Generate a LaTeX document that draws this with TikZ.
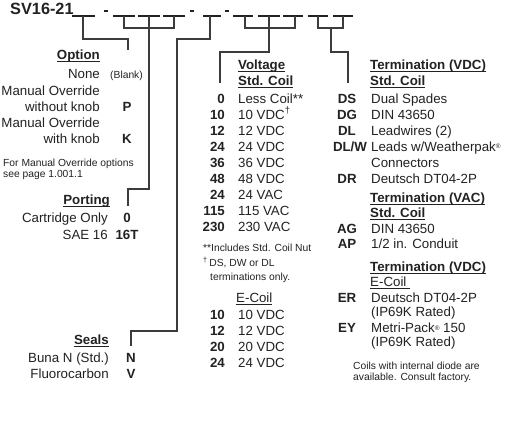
\documentclass[tikz,border=0pt]{standalone}
\usepackage{fontspec}
\setmainfont{Liberation Sans}
\definecolor{txt}{HTML}{222222}
\definecolor{ln}{HTML}{3C3C3C}
\newcommand\myul[1]{\setbox0\hbox{#1}\rlap{\rule[-2.4pt]{\wd0}{0.9pt}}\box0}
\newcommand\regmark{\raisebox{2.5pt}{\fontsize{6.5}{6.5}\selectfont ®}}
\tikzset{
  lbl/.style={inner sep=0, text=txt, font=\fontsize{13.3}{15}\selectfont},
  head/.style={lbl, font=\fontsize{13.3}{15}\selectfont\bfseries},
  code/.style={lbl, font=\fontsize{13.3}{15}\selectfont\bfseries},
  small/.style={inner sep=0, text=txt, font=\fontsize{10.3}{11.5}\selectfont},
  conn/.style={draw=ln, line width=1.2pt, line join=miter},
  blankline/.style={draw=txt, line width=1.7pt},
  dashmark/.style={draw=txt, line width=1.4pt},
}
\begin{document}
\begin{tikzpicture}[x=1pt,y=-1pt]
\useasboundingbox[fill=white] (0,0) rectangle (512,424);

% title and blanks
\node[inner sep=0, text=txt, anchor=base west, font=\fontsize{16.3}{18}\selectfont\bfseries] (title) at (10,14) {SV16-21};
\foreach \a/\b/\n in {72/95/b1, 113/135/b2, 138/160/b3, 163/185/b4, 203/221/b5, 233/253/b6, 258/280/b7, 283/303/b8, 308/328/b9, 333/353/b10}
  \draw[blankline] (\a,16) -- (\b,16) coordinate[pos=0.5] (\n);
\foreach \x/\n in {106/d1, 192/d2, 227/d3}
  \draw[dashmark] (\x-2,11) -- (\x+2,11) coordinate (\n);

% connector points
\coordinate (optEnd) at (128,50);
\coordinate (portEnd) at (128,206);
\coordinate (sealEnd) at (131,346);
\coordinate (voltEnd) at (220,83);
\coordinate (termEnd) at (348,83);

% Option connector
\draw[conn] (83,16) |- (128,39) -- (optEnd);
% Porting group
\draw[conn] (124,16) |- (174,28) -- (174,16);
\draw[conn] (b3) |- (128,189) -- (portEnd);
% Seals
\draw[conn] (210,16) |- (177,39) |- (131,331) -- (sealEnd);
% Voltage group
\draw[conn] (245,16) |- (295,28) -- (295,16);
\draw[conn] (b7) |- (220,52) -- (voltEnd);
% Termination group
\draw[conn] (318,16) |- (343,28) -- (343,16);
\draw[conn] (331,28) |- (348,52) -- (termEnd);

% Option
\node[head, anchor=base east] (optH) at (100,59) {\myul{Option}};
\node[lbl, anchor=base east] (none) at (100,78) {None};
\node[small, anchor=base west] (blk) at (110,78) {(Blank)};
\node[lbl, anchor=base east] (mo1) at (100,95) {Manual Override};
\node[lbl, anchor=base east] (wok) at (100,111) {without knob};
\node[code, anchor=base] (cP) at (127,111) {P};
\node[lbl, anchor=base east] (mo2) at (100,127.5) {Manual Override};
\node[lbl, anchor=base east] (wk) at (100,143) {with knob};
\node[code, anchor=base] (cK) at (127,143) {K};
\node[small, anchor=base west] (note1) at (3,166) {For Manual Override options};
\node[small, anchor=base west] (note2) at (3,177) {see page 1.001.1};

% Porting
\node[head, anchor=base east] (portH) at (110,204) {\myul{Porting}};
\node[lbl, anchor=base east] (cart) at (108,222) {Cartridge Only};
\node[code, anchor=base] (c0) at (127,222) {0};
\node[lbl, anchor=base east] (sae) at (108,239) {SAE 16};
\node[code, anchor=base] (c16) at (127,239) {16T};

% Seals
\node[head, anchor=base east] (sealH) at (109,344) {\myul{Seals}};
\node[lbl, anchor=base east] (buna) at (109,362) {Buna N (Std.)};
\node[code, anchor=base] (cN) at (131,362) {N};
\node[lbl, anchor=base east] (fluo) at (109,378) {Fluorocarbon};
\node[code, anchor=base] (cV) at (131,378) {V};

% Voltage
\node[head, anchor=base west] (voltH) at (238,69) {\myul{Voltage}};
\node[head, anchor=base west] (vstdH) at (238,85) {\myul{Std. Coil}};
\foreach \c/\v [count=\i from 0] in {0/Less Coil**, 10/10 VDC\textsuperscript{†}, 12/12 VDC, 24/24 VDC, 36/36 VDC, 48/48 VDC, 24/24 VAC, 115/115 VAC, 230/230 VAC}{
  \node[code, anchor=base east] (vc\i) at (225,103+16.1*\i) {\c};
  \node[lbl, anchor=base west] (vv\i) at (238,103+16.1*\i) {\v};
}
\node[small, anchor=base west] (incl) at (203,251) {**Includes Std. Coil Nut};
\node[small, anchor=base west] (dag1) at (203,266.5) {\textsuperscript{†}\,DS, DW or DL};
\node[small, anchor=base west] (dag2) at (210,280) {terminations only.};

% E-Coil
\node[lbl, anchor=base west] (ecH) at (236,302.5) {\myul{E-Coil}};
\foreach \c [count=\i from 0] in {10, 12, 20, 24}{
  \node[code, anchor=base east] (ec\i) at (225,319.5+16.1*\i) {\c};
  \node[lbl, anchor=base west] (ev\i) at (238,319.5+16.1*\i) {\c\ VDC};
}

% Termination VDC std
\node[head, anchor=base west] (termH) at (370,69) {\myul{Termination (VDC)}};
\node[head, anchor=base west] (tstdH) at (370,85) {\myul{Std. Coil}};
\node[code, anchor=base] (tDS) at (347,103) {DS};
\node[lbl, anchor=base west] (vDS) at (371,103) {Dual Spades};
\node[code, anchor=base] (tDG) at (347,119) {DG};
\node[lbl, anchor=base west] (vDG) at (371,119) {DIN 43650};
\node[code, anchor=base] (tDL) at (347,135) {DL};
\node[lbl, anchor=base west] (vDL) at (371,135) {Leadwires (2)};
\node[code, anchor=base] (tDLW) at (350,151) {DL/W};
\node[lbl, anchor=base west] (vDLW) at (371,151) {Leads w/Weatherpak\regmark};
\node[lbl, anchor=base west] (vCon) at (371,167) {Connectors};
\node[code, anchor=base] (tDR) at (347,183) {DR};
\node[lbl, anchor=base west] (vDR) at (371,183) {Deutsch DT04-2P};

% Termination VAC
\node[head, anchor=base west] (tvacH) at (370,202.5) {\myul{Termination (VAC)}};
\node[head, anchor=base west] (tstd2) at (370,217.5) {\myul{Std. Coil}};
\node[code, anchor=base] (tAG) at (347,233) {AG};
\node[lbl, anchor=base west] (vAG) at (371,233) {DIN 43650};
\node[code, anchor=base] (tAP) at (347,248.5) {AP};
\node[lbl, anchor=base west] (vAP) at (371,248.5) {1/2 in. Conduit};

% Termination VDC E-coil
\node[head, anchor=base west] (term3) at (370,271) {\myul{Termination (VDC)}};
\node[lbl, anchor=base west] (tec) at (370,286.5) {\myul{E-Coil\ }};
\node[code, anchor=base] (tER) at (347,302.5) {ER};
\node[lbl, anchor=base west] (vER) at (371,302.5) {Deutsch DT04-2P};
\node[lbl, anchor=base west] (vER2) at (371,316.5) {(IP69K Rated)};
\node[code, anchor=base] (tEY) at (347,332.5) {EY};
\node[lbl, anchor=base west] (vEY) at (371,332.5) {Metri-Pack\regmark\ 150};
\node[lbl, anchor=base west] (vEY2) at (371,346.5) {(IP69K Rated)};
\node[small, anchor=base west] (diode1) at (353,369) {Coils with internal diode are};
\node[small, anchor=base west] (diode2) at (353,380.5) {available. Consult factory.};
\end{tikzpicture}
\end{document}
